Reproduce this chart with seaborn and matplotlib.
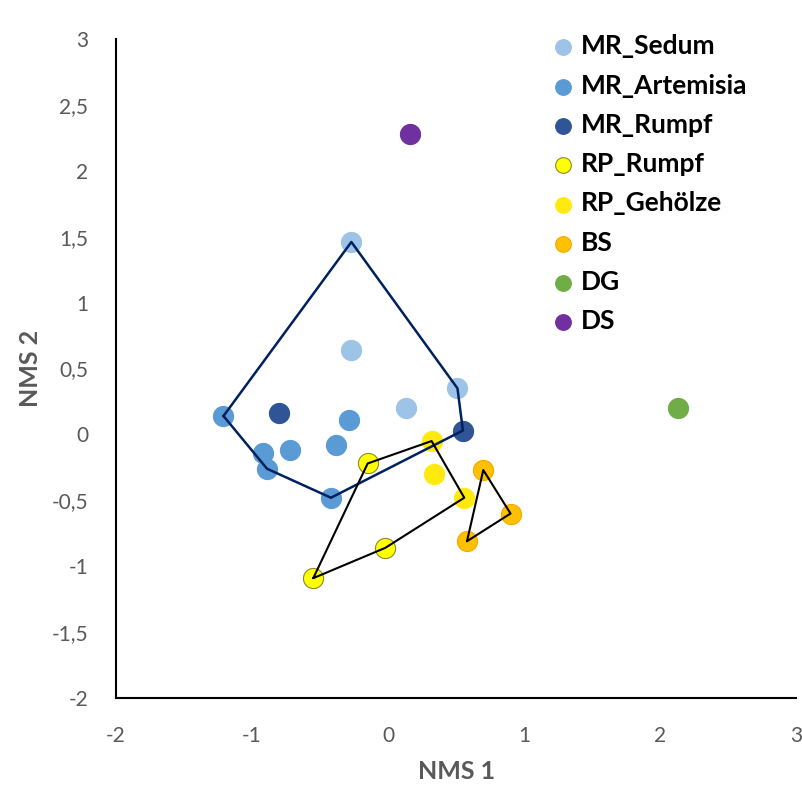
import numpy as np
import pandas as pd
import matplotlib
matplotlib.use("Agg")
import matplotlib.pyplot as plt
import seaborn as sns

# NMS ordination scores per site group
groups = ["MR_Sedum", "MR_Artemisia", "MR_Rumpf", "RP_Rumpf", "RP_Gehölze", "BS", "DG", "DS"]
mr_sedum_x = [-0.27, -0.27, 0.13, 0.51]
mr_sedum_y = [1.46, 0.64, 0.20, 0.35]
mr_artemisia_x = [-1.21, -0.29, -0.38, -0.72, -0.92, -0.89, -0.42]
mr_artemisia_y = [0.14, 0.11, -0.08, -0.12, -0.14, -0.26, -0.48]
mr_rumpf_x = [-0.80, 0.55]
mr_rumpf_y = [0.16, 0.03]
rp_rumpf_x = [-0.15, -0.55, -0.02]
rp_rumpf_y = [-0.22, -1.09, -0.86]
rp_gehoelze_x = [0.32, 0.34, 0.56]
rp_gehoelze_y = [-0.05, -0.30, -0.48]
bs_x = [0.70, 0.90, 0.58]
bs_y = [-0.27, -0.60, -0.81]
dg_x = [2.13]
dg_y = [0.20]
ds_x = [0.16]
ds_y = [2.28]

x_ticks = [-2, -1, 0, 1, 2, 3]
x_tick_labels = ["-2", "-1", "0", "1", "2", "3"]
y_ticks = [-2, -1.5, -1, -0.5, 0, 0.5, 1, 1.5, 2, 2.5, 3]
y_tick_labels = ["-2", "-1,5", "-1", "-0,5", "0", "0,5", "1", "1,5", "2", "2,5", "3"]

xs = [mr_sedum_x, mr_artemisia_x, mr_rumpf_x, rp_rumpf_x, rp_gehoelze_x, bs_x, dg_x, ds_x]
ys = [mr_sedum_y, mr_artemisia_y, mr_rumpf_y, rp_rumpf_y, rp_gehoelze_y, bs_y, dg_y, ds_y]
df = pd.concat(
    [pd.DataFrame({"NMS 1": x, "NMS 2": y, "Gruppe": g}) for g, x, y in zip(groups, xs, ys)],
    ignore_index=True,
)

fill = {
    "MR_Sedum": "#9DC3E6",
    "MR_Artemisia": "#5B9BD5",
    "MR_Rumpf": "#2F5597",
    "RP_Rumpf": "#FFFF00",
    "RP_Gehölze": "#FFE90F",
    "BS": "#FFC000",
    "DG": "#70AD47",
    "DS": "#7030A0",
}
edge = {
    "MR_Sedum": "#9DC3E6",
    "MR_Artemisia": "#5B9BD5",
    "MR_Rumpf": "#2F5597",
    "RP_Rumpf": "#8C8C2A",
    "RP_Gehölze": "#FFE90F",
    "BS": "#F5A800",
    "DG": "#70AD47",
    "DS": "#7030A0",
}


def convex_hull(px, py):
    pts = sorted(set(zip(px, py)))

    def cross(o, a, b):
        return (a[0] - o[0]) * (b[1] - o[1]) - (a[1] - o[1]) * (b[0] - o[0])

    lower, upper = [], []
    for p in pts:
        while len(lower) >= 2 and cross(lower[-2], lower[-1], p) <= 0:
            lower.pop()
        lower.append(p)
    for p in reversed(pts):
        while len(upper) >= 2 and cross(upper[-2], upper[-1], p) <= 0:
            upper.pop()
        upper.append(p)
    hull = lower[:-1] + upper[:-1]
    hull.append(hull[0])
    return [h[0] for h in hull], [h[1] for h in hull]


sns.set_theme(style="white")
plt.rcParams["font.family"] = ["Lato", "DejaVu Sans"]

fig = plt.figure(figsize=(8.03, 7.96), dpi=100)
ax = fig.add_axes([0.1445, 0.123, 0.847, 0.828])

for g in groups:
    sub = df[df["Gruppe"] == g]
    sns.scatterplot(
        data=sub, x="NMS 1", y="NMS 2", ax=ax, s=210,
        color=fill[g], edgecolor=edge[g], linewidth=0.8, label=g, zorder=3,
    )

# group envelopes
mr = df[df["Gruppe"].str.startswith("MR")]
rp = df[df["Gruppe"].str.startswith("RP")]
bs = df[df["Gruppe"] == "BS"]
hx, hy = convex_hull(mr["NMS 1"], mr["NMS 2"])
ax.plot(hx, hy, color="#002060", lw=1.8, zorder=4)
for part in (rp, bs):
    hx, hy = convex_hull(part["NMS 1"], part["NMS 2"])
    ax.plot(hx, hy, color="black", lw=1.5, zorder=4)

ax.set_xlim(-2, 3)
ax.set_ylim(-2, 3)
ax.set_xticks(x_ticks)
ax.set_xticklabels(x_tick_labels)
ax.set_yticks(y_ticks)
ax.set_yticklabels(y_tick_labels)
ax.tick_params(axis="both", length=0, labelsize=15, labelcolor="#595959", pad=20)

for side in ("top", "right"):
    ax.spines[side].set_visible(False)
for side in ("left", "bottom"):
    ax.spines[side].set_color("black")
    ax.spines[side].set_linewidth(1.5)

ax.set_xlabel("NMS 1", fontsize=18, fontweight="bold", color="#595959", labelpad=10)
ax.set_ylabel("NMS 2", fontsize=18, fontweight="bold", color="#595959", labelpad=7)

leg = ax.legend(
    loc="upper left", bbox_to_anchor=(0.685, 0.957), bbox_transform=fig.transFigure,
    frameon=False, prop={"size": 19, "weight": "bold"}, handletextpad=0.15,
    handlelength=1.0, labelspacing=0.58, markerscale=0.78, borderaxespad=0,
    borderpad=0,
)
for t in leg.get_texts():
    t.set_color("black")

fig.savefig("out.png", dpi=100)
